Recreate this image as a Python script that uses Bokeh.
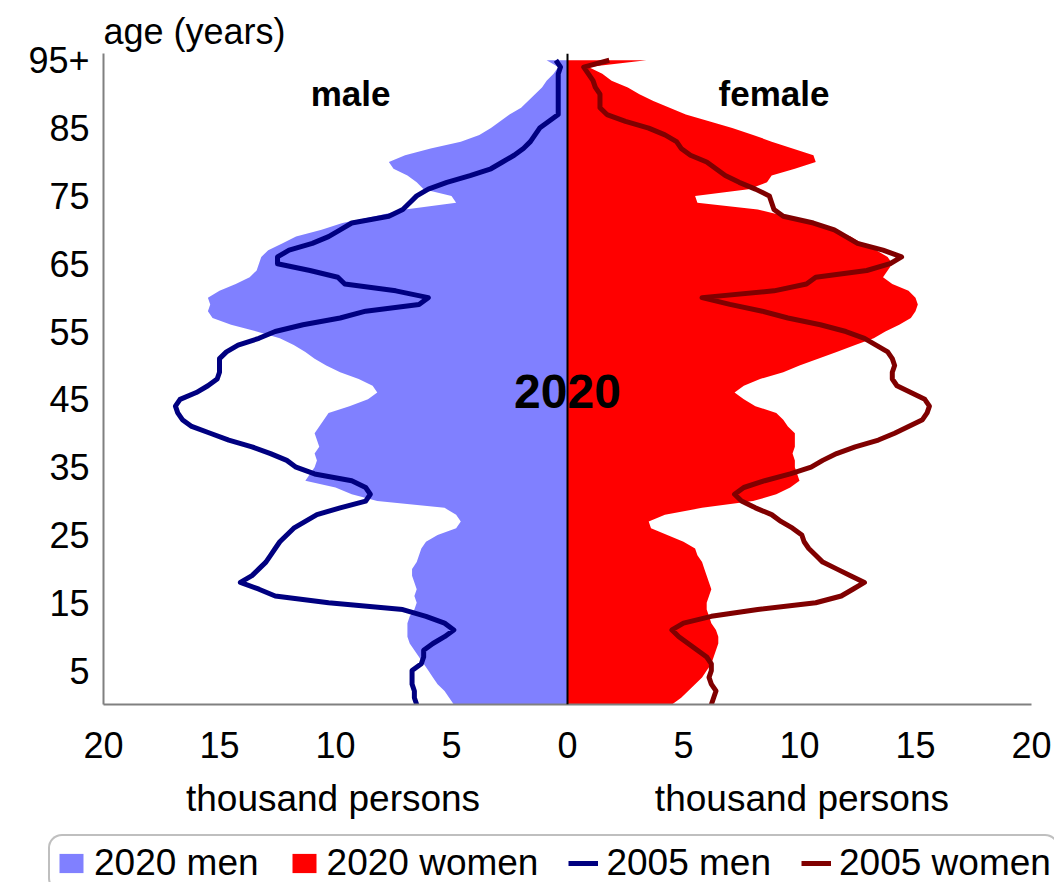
from bokeh.plotting import figure
from bokeh.layouts import column
from bokeh.models import (ColumnDataSource, Range1d, FixedTicker, Label, Legend,
                          LegendItem, Span)
from bokeh.embed import file_html
from bokeh.resources import INLINE

# ---------------- data (thousand persons, by single year of age) ----------------
ages = list(range(96))  # 0 .. 95 (95 = "95+")

men_2020 = [4.9, 5.1, 5.3, 5.6, 5.8, 6.0, 6.2, 6.4, 6.6, 6.8,
            6.9, 6.9, 6.9, 6.8, 6.6, 6.5, 6.6, 6.5, 6.6, 6.7,
            6.7, 6.5, 6.4, 6.3, 6.1, 5.6, 4.8, 4.6, 4.8, 5.3,
            8.2, 9.3, 10.0, 11.3, 11.1, 10.9, 10.8, 10.9, 10.7, 10.8,
            10.9, 10.7, 10.5, 10.3, 9.4, 8.6, 8.2, 8.4, 9.0, 9.8,
            10.4, 10.9, 11.3, 11.8, 12.4, 13.4, 14.5, 15.3, 15.5, 15.4,
            15.5, 15.0, 14.3, 13.7, 13.4, 13.3, 13.2, 12.9, 12.3, 11.7,
            10.6, 9.7, 8.3, 7.0, 4.8, 5.0, 6.2, 6.5, 6.9, 7.5,
            7.7, 7.0, 5.9, 4.6, 3.8, 3.3, 2.9, 2.5, 2.0, 1.7,
            1.4, 1.1, 0.9, 0.6, 0.4, 0.9]

women_2020 = [4.5, 4.9, 5.2, 5.5, 5.8, 6.0, 6.2, 6.3, 6.4, 6.5,
              6.5, 6.4, 6.2, 6.1, 6.0, 6.0, 6.1, 6.2, 6.1, 6.0,
              5.9, 5.8, 5.6, 5.5, 5.0, 4.3, 3.6, 3.5, 4.2, 5.8,
              8.0, 9.0, 9.6, 10.0, 9.9, 9.8, 9.8, 9.7, 9.8, 9.8,
              9.8, 9.5, 9.3, 9.0, 8.1, 7.6, 7.2, 7.6, 8.3, 9.3,
              10.0, 10.8, 11.6, 12.4, 13.2, 13.7, 14.3, 14.8, 15.0, 15.1,
              15.0, 14.7, 14.0, 13.6, 13.8, 14.0, 13.8, 13.3, 12.7, 12.2,
              11.4, 10.3, 9.4, 8.2, 5.6, 5.5, 7.8, 8.6, 8.8, 9.8,
              10.7, 10.6, 9.7, 8.8, 8.0, 7.1, 6.1, 5.1, 4.4, 3.7,
              3.1, 2.6, 1.9, 1.5, 0.9, 3.4]

men_2005 = [6.5, 6.6, 6.6, 6.7, 6.7, 6.7, 6.3, 6.2, 6.2, 5.8,
            5.3, 4.9, 5.3, 6.1, 7.1, 10.3, 12.6, 13.3, 14.1, 13.6,
            13.3, 13.0, 12.8, 12.6, 12.4, 12.1, 11.8, 11.3, 10.8, 9.8,
            8.7, 8.5, 8.7, 9.3, 10.9, 11.7, 12.1, 12.8, 13.6, 14.6,
            15.4, 16.2, 16.6, 16.8, 16.9, 16.7, 16.0, 15.5, 15.1, 15.0,
            15.0, 15.0, 14.7, 14.2, 13.3, 12.6, 11.4, 9.8, 8.7, 6.4,
            6.0, 7.4, 9.6, 9.9, 11.1, 12.5, 12.5, 12.0, 11.0, 10.3,
            9.8, 9.3, 7.7, 7.1, 6.8, 6.5, 6.0, 5.2, 4.2, 3.3,
            2.8, 2.3, 1.9, 1.6, 1.4, 1.2, 0.8, 0.4, 0.4, 0.4,
            0.4, 0.4, 0.4, 0.4, 0.3, 0.5]

women_2005 = [6.2, 6.3, 6.4, 6.2, 6.1, 6.2, 6.2, 6.0, 5.6, 5.2,
              4.8, 4.5, 5.0, 6.2, 8.2, 10.7, 11.8, 12.3, 12.8, 12.2,
              11.6, 11.0, 10.7, 10.4, 10.2, 10.1, 9.7, 9.2, 8.8, 8.1,
              7.5, 7.2, 7.6, 8.5, 9.6, 10.5, 11.0, 11.6, 12.4, 13.4,
              14.1, 14.7, 15.3, 15.5, 15.6, 15.4, 14.8, 14.2, 14.0, 14.0,
              14.1, 14.0, 13.8, 13.3, 12.8, 12.0, 10.9, 9.5, 8.4, 7.0,
              5.8, 8.9, 10.3, 10.7, 12.9, 13.9, 14.4, 13.6, 12.5, 12.0,
              11.5, 10.6, 9.3, 8.9, 8.8, 8.7, 8.1, 7.4, 6.8, 6.4,
              6.0, 5.3, 4.9, 4.7, 4.2, 3.5, 2.5, 1.7, 1.4, 1.4,
              1.4, 1.2, 1.1, 0.9, 0.7, 1.8]

x_ticks = [-20, -15, -10, -5, 0, 5, 10, 15, 20]
x_tick_labels = ["20", "15", "10", "5", "0", "5", "10", "15", "20"]
y_ticks = [5, 15, 25, 35, 45, 55, 65, 75, 85, 95]
y_tick_labels = ["5", "15", "25", "35", "45", "55", "65", "75", "85", "95+"]

series_labels = ["2020 men", "2020 women", "2005 men", "2005 women"]
x_title = "thousand persons"
y_title = "age (years)"

# ---------------- styling ----------------
FONT = "Liberation Sans"
C_MEN20 = "#8080FF"
C_WOM20 = "#FF0000"
C_MEN05 = "#000080"
C_WOM05 = "#800000"

src = ColumnDataSource(dict(
    age=ages,
    zero=[0] * len(ages),
    m20=[-v for v in men_2020],
    w20=women_2020,
    m05=[-v for v in men_2005],
    w05=women_2005,
))


def no_frame_align(fig):
    if "frame_align" in fig.properties():
        fig.frame_align = False


# ---------------- main pyramid ----------------
p = figure(width=1054, height=830, output_backend="svg", toolbar_location=None,
           x_range=Range1d(-20, 20), y_range=Range1d(0, 96),
           min_border_left=103, min_border_right=23,
           min_border_top=53, min_border_bottom=126,
           outline_line_color=None, background_fill_color="white")
p.grid.visible = False
no_frame_align(p)

# y-axis title shown above the axis, left aligned
p.title.text = y_title
p.title.align = "left"
p.title.text_font = FONT
p.title.text_font_size = "36px"
p.title.text_font_style = "normal"
p.title.text_color = "black"
p.title.standoff = 4

p.harea(y="age", x1="zero", x2="m20", source=src, fill_color=C_MEN20, fill_alpha=1)
p.harea(y="age", x1="zero", x2="w20", source=src, fill_color=C_WOM20, fill_alpha=1)
p.add_layout(Span(location=0, dimension="height", line_color="black", line_width=2))
p.line(x="m05", y="age", source=src, line_color=C_MEN05, line_width=5, line_join="round")
p.line(x="w05", y="age", source=src, line_color=C_WOM05, line_width=5, line_join="round")

for ax in (p.xaxis[0], p.yaxis[0]):
    ax.major_tick_line_color = None
    ax.minor_tick_line_color = None
    ax.major_tick_out = 0
    ax.axis_line_color = "#808080"
    ax.axis_line_width = 2
    ax.major_label_text_font = FONT
    ax.major_label_text_font_size = "36px"
    ax.major_label_text_color = "black"

p.xaxis.ticker = FixedTicker(ticks=x_ticks)
p.xaxis.major_label_overrides = dict(zip(x_ticks, x_tick_labels))
p.xaxis.major_label_standoff = 27
# one title under each half of the pyramid
p.xaxis.axis_label = x_title + "\u00a0" * 17 + x_title
p.xaxis.axis_label_text_font = FONT
p.xaxis.axis_label_text_font_size = "37px"
p.xaxis.axis_label_text_font_style = "normal"
p.xaxis.axis_label_text_color = "black"
p.xaxis.axis_label_standoff = 17

p.yaxis.ticker = FixedTicker(ticks=y_ticks)
p.yaxis.major_label_overrides = dict(zip(y_ticks, y_tick_labels))
p.yaxis.major_label_standoff = 14


def add_text(x, y, text, size, bold=False, align="center"):
    p.add_layout(Label(x=x, y=y, text=text, text_font=FONT, text_font_size=size,
                       text_font_style="bold" if bold else "normal",
                       text_color="black", text_align=align, text_baseline="middle"))


add_text(-9.35, 90.1, "male", "35px", bold=True)
add_text(8.9, 90.1, "female", "35px", bold=True)
add_text(0, 46.2, "2020", "48px", bold=True)

# ---------------- legend strip (series drawn out of view, only the legend shows) ----------------
leg = figure(width=1054, height=52, output_backend="svg", toolbar_location=None,
             x_range=Range1d(100, 101), y_range=Range1d(0, 1),
             x_axis_type=None, y_axis_type=None,
             min_border_left=0, min_border_right=0, min_border_top=0, min_border_bottom=0,
             outline_line_color=None, background_fill_color="white")
leg.grid.visible = False
no_frame_align(leg)

l_m20 = leg.harea(y="age", x1="zero", x2="m20", source=src, fill_color=C_MEN20, fill_alpha=1)
l_w20 = leg.harea(y="age", x1="zero", x2="w20", source=src, fill_color=C_WOM20, fill_alpha=1)
l_m05 = leg.line(x="m05", y="age", source=src, line_color=C_MEN05, line_width=5)
l_w05 = leg.line(x="w05", y="age", source=src, line_color=C_WOM05, line_width=5)

legend = Legend(items=[
    LegendItem(label=series_labels[0], renderers=[l_m20]),
    LegendItem(label=series_labels[1], renderers=[l_w20]),
    LegendItem(label=series_labels[2], renderers=[l_m05]),
    LegendItem(label=series_labels[3], renderers=[l_w05]),
], orientation="horizontal", location=(48, -10),
    label_text_font=FONT, label_text_font_size="37px", label_text_color="black",
    glyph_width=30, glyph_height=24, label_standoff=8, spacing=30, padding=6,
    margin=0, border_line_color="#808080", border_line_width=2,
    background_fill_color="white", background_fill_alpha=1)
if "border_radius" in legend.properties():
    legend.border_radius = 14
leg.add_layout(legend)

layout = column(p, leg, spacing=0)
open("out.html", "w").write(file_html(layout, INLINE))
